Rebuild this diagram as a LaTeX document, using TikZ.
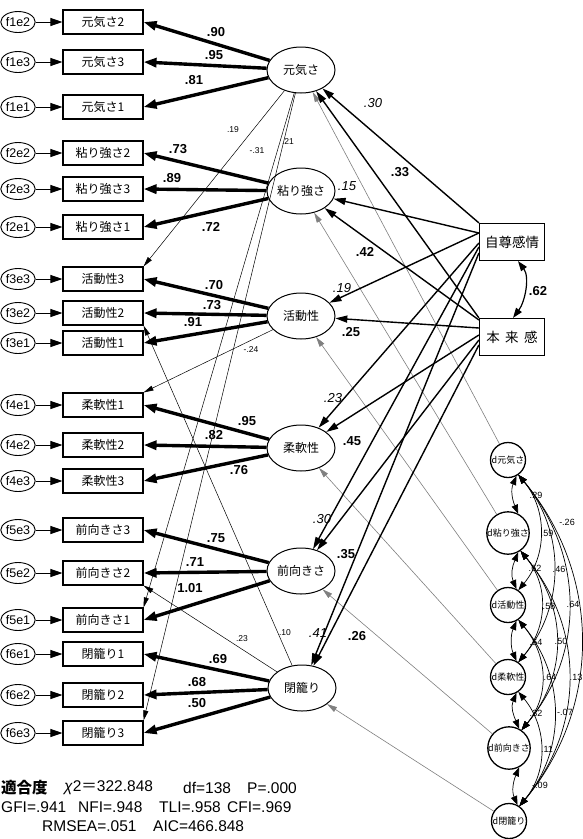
\documentclass[tikz,border=0pt]{standalone}
\usepackage{fontspec}
\setmainfont{Liberation Sans}
\newfontfamily\jp{Noto Sans CJK JP}
\usetikzlibrary{arrows.meta,shapes.geometric,calc}
\begin{document}
\begin{tikzpicture}[x=1pt,y=-1pt,
 err/.style={ellipse,draw,line width=0.9pt,minimum width=31pt,minimum height=21pt,inner sep=0pt,font=\fontsize{12.5}{12}\selectfont},
 ind/.style={rectangle,draw,line width=1.1pt,minimum width=80pt,minimum height=24pt,inner sep=0pt,font=\jp\fontsize{12}{12}\selectfont},
 lat/.style={ellipse,draw,line width=1pt,minimum width=68pt,minimum height=46pt,inner sep=0pt,font=\jp\fontsize{12}{12}\selectfont},
 exo/.style={rectangle,draw,line width=1.2pt,minimum width=65pt,minimum height=37pt,inner sep=0pt,font=\jp\fontsize{13.5}{14}\selectfont},
 dist/.style={circle,draw,line width=1.3pt,minimum size=35pt,inner sep=0pt,font=\jp\fontsize{9}{9}\selectfont},
 ea/.style={line width=0.9pt,-{Triangle[length=12pt,width=8pt]}},
 load/.style={line width=3.4pt,-{Triangle[length=13pt,width=9pt]}},
 sp/.style={line width=1.4pt,-{Triangle[length=12pt,width=7pt]}},
 xl/.style={line width=0.5pt,-{Triangle[length=10pt,width=5pt]}},
 da/.style={gray,line width=0.6pt,-{Triangle[length=10pt,width=5.5pt]}},
 cr/.style={line width=0.7pt,{Triangle[length=9pt,width=6.5pt]}-{Triangle[length=9pt,width=6.5pt]}},
 lb/.style={font=\bfseries\fontsize{13}{13}\selectfont,inner sep=0pt},
 li/.style={font=\itshape\fontsize{13}{13}\selectfont,inner sep=0pt},
 ls/.style={font=\fontsize{8.5}{9}\selectfont,inner sep=0pt},
 lc/.style={font=\fontsize{9}{9}\selectfont,inner sep=0pt},
 fitt/.style={font=\fontsize{15.5}{16}\selectfont,inner sep=0pt,anchor=west}
]
\useasboundingbox[fill=white] (0,0) rectangle (582,839);

% indicators and error terms
\foreach \nm/\y/\e/\t in {g2/22/f1e2/元気さ2, g3/62/f1e3/元気さ3, g1/107/f1e1/元気さ1,
  n2/153/f2e2/粘り強さ2, n3/189/f2e3/粘り強さ3, n1/227/f2e1/粘り強さ1,
  a3/279/f3e3/活動性3, a2/313/f3e2/活動性2, a1/343/f3e1/活動性1,
  j1/405/f4e1/柔軟性1, j2/445/f4e2/柔軟性2, j3/481/f4e3/柔軟性3,
  m3/530/f5e3/前向きさ3, m2/573/f5e2/前向きさ2, m1/620/f5e1/前向きさ1,
  c1/654/f6e1/閉籠り1, c2/695/f6e2/閉籠り2, c3/733/f6e3/閉籠り3}
{
  \node[ind] (\nm) at (103,\y) {\t};
  \node[err] (e\nm) at (18,\y) {\e};
  \draw[ea] (e\nm) -- (\nm);
}

% latent factors
\node[lat] (L1) at (301,70) {元気さ};
\node[lat] (L2) at (301,191) {粘り強さ};
\node[lat] (L3) at (301,316) {活動性};
\node[lat] (L4) at (301,448) {柔軟性};
\node[lat] (L5) at (301,571) {前向きさ};
\node[lat] (L6) at (302,688) {閉籠り};

% exogenous
\node[exo] (S) at (512,242) {自尊感情};
\node[exo] (H) at (512,337) {本\hspace{0.4em}来\hspace{0.4em}感};

% disturbances
\node[dist] (D1) at (508,460) {d元気さ};
\node[dist] (D2) at (508,533) {d粘り強さ};
\node[dist] (D3) at (508,605) {d活動性};
\node[dist] (D4) at (508,677) {d柔軟性};
\node[dist] (D5) at (509,748) {d前向きさ};
\node[dist] (D6) at (509,821) {d閉籠り};

% loadings
\foreach \l/\b in {L1/g2,L1/g3,L1/g1,L2/n2,L2/n3,L2/n1,L3/a3,L3/a2,L3/a1,
  L4/j1,L4/j2,L4/j3,L5/m3,L5/m2,L5/m1,L6/c1,L6/c2,L6/c3}
  \draw[load] (\l) -- (\b.east);

% cross loadings
\draw[xl] (L1) -- (a3.north east);
\draw[xl] (L1) -- (m1.north east);
\draw[xl] (L1) -- (c3.north east);
\draw[xl] (L3) -- (j1.north east);
\draw[xl] (L6) -- (a2.south east);
\draw[xl] (L6) -- (m2.south east);

% disturbance arrows
\foreach \i in {1,...,6} \draw[da] (D\i) -- (L\i);

% structural paths
\draw[sp] (S.north west) -- (L1);
\draw[sp] ([yshift=9pt]S.west) -- (L2);
\draw[sp] ([yshift=9pt]S.west) -- (L3);
\draw[sp] ([yshift=-1pt]S.west) -- (L4);
\draw[sp] ([yshift=-5pt]S.west) -- (L5);
\draw[sp] ([yshift=-11pt]S.west) -- (L6);
\draw[sp] (H.north west) -- (L1);
\draw[sp] ([yshift=17pt]H.west) -- (L2);
\draw[sp] ([yshift=9pt]H.west) -- (L3);
\draw[sp] ([yshift=2pt]H.west) -- (L4);
\draw[sp] ([yshift=-3pt]H.west) -- (L5);
\draw[sp] ([yshift=-8pt]H.west) -- (L6);

% correlation between exogenous
\draw[line width=1.2pt,{Triangle[length=10pt,width=7pt]}-{Triangle[length=10pt,width=7pt]}]
  ([xshift=6pt]S.south) .. controls +(12,16) and +(12,-16) .. ([xshift=1pt]H.north);
\node[lb] at (538,291) {.62};

% disturbance correlations
\foreach \i/\j in {1/2,2/3,3/4,4/5,5/6}
  \draw[cr] (D\i.-62) .. controls +(-6,14) and +(-6,-14) .. (D\j.62);
\foreach \i/\j in {1/3,2/4,3/5,4/6}
  \draw[cr] (D\i.-55) .. controls +(29,35) and +(29,-35) .. (D\j.55);
\foreach \i/\j in {1/4,2/5,3/6}
  \draw[cr] (D\i.-55) .. controls +(47,56) and +(47,-56) .. (D\j.55);
\foreach \i/\j in {1/5,2/6}
  \draw[cr] (D\i.-55) .. controls +(65,78) and +(65,-78) .. (D\j.55);
\draw[cr] (D1.-55) .. controls +(83,99) and +(83,-99) .. (D6.55);

% loading labels
\foreach \x/\y/\t in {216/32/.90, 214/55/.95, 194/80/.81, 178/149/.73, 172/178/.89, 211/227/.72,
  214/285/.70, 212/305/.73, 193/322/.91, 247/421/.95, 214/435/.82, 239/470/.76,
  216/538/.75, 195/562/.71, 190/588/1.01, 218/659/.69, 197/682/.68, 197/703/.50}
  \node[lb] at (\x,\y) {\t};

% structural labels
\foreach \x/\y/\t in {373/103/.30, 347/186/.15, 342/288/.19, 333/398/.23, 322/519/.30, 318/633/.41}
  \node[li] at (\x,\y) {\t};
\foreach \x/\y/\t in {400/172/.33, 365/252/.42, 351/332/.25, 352/441/.45, 346/554/.35, 357/636/.26}
  \node[lb] at (\x,\y) {\t};

% cross-loading labels
\foreach \x/\y/\t in {233/130/.19, 257/151/-.31, 288/142/.21, 251/350/-.24, 242/639/.23, 285/633/.10}
  \node[ls] at (\x,\y) {\t};

% correlation labels
\foreach \x/\y/\t in {536/495/.29, 547/533/.59, 567/522/-.26, 535/568/.62, 559/569/.46,
  549/606/.58, 573/604/.64, 536/642/.54, 561/641/.50, 550/677/.64, 576/677/.13,
  536/713/.32, 565/712/-.07, 547/749/.11, 540/785/-.09}
  \node[lc] at (\x,\y) {\t};

% fit indices
\node[fitt] (f1) at (1,788) {\jp\bfseries 適合度};
\node[fitt] (f2) at (64,788) {\textit{χ}2{\jp ＝}322.848};
\node[fitt] (f3) at (183,788) {df=138};
\node[fitt] (f4) at (247,788) {P=.000};
\node[fitt] (f5) at (1,807) {GFI=.941};
\node[fitt] (f6) at (78,807) {NFI=.948};
\node[fitt] (f7) at (159,807) {TLI=.958};
\node[fitt] (f8) at (227,807) {CFI=.969};
\node[fitt] (f9) at (42,826) {RMSEA=.051};
\node[fitt] (f10) at (153,826) {AIC=466.848};
\end{tikzpicture}
\end{document}
